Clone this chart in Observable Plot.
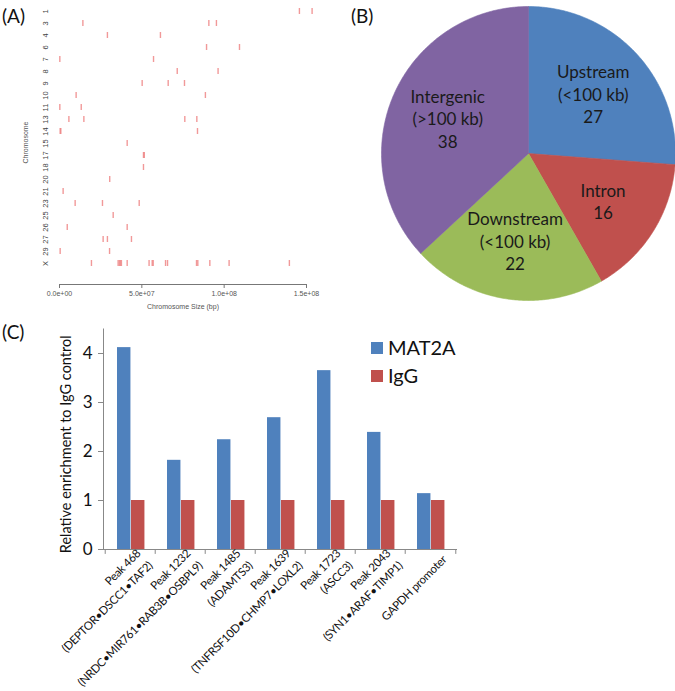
<!DOCTYPE html>
<html><head><meta charset="utf-8">
<script src="https://cdn.jsdelivr.net/npm/d3@7"></script>
<script src="https://cdn.jsdelivr.net/npm/@observablehq/plot@0.6"></script>
<style>
body{margin:0;background:#fff;}
#root{position:relative;width:675px;height:691px;overflow:hidden;font-family:Lato,sans-serif;}
.panel{position:absolute;}
.plabel{position:absolute;font-size:19px;color:#111;font-family:Lato,sans-serif;line-height:1;}
.leg{position:absolute;font-family:Lato,sans-serif;font-size:20px;color:#111;line-height:1;}
.sw{position:absolute;width:12px;height:12px;}
</style></head><body><div id="root"></div>
<script>
// ---------- Panel A data ----------
const chromOrder = ["1","3","4","6","7","8","9","10","11","13","14","15","17","18","20","21","23","25","26","27","29","X"];
const peakChrom = ["1","1","3","3","3","4","4","6","6","7","7","8","8","9","9","9","10","10","11","11",
  "13","13","13","13","14","14","14","15","17","17","18","20","21","23","23","23","25","26","26",
  "27","27","27","29","29",
  "X","X","X","X","X","X","X","X","X","X","X","X","X","X","X","X"];
const peakPosMb = [145.7,153.4, 14.2,90.7,95.3, 29.1,61.3, 89.3,109.3, 0.2,57.1, 71.5,96.3, 50.2,66.0,75.9,
  10.1,88.6, 0.2,13.2, 5.7,14.8,76.1,83.4, 0.4,0.8,83.8, 41.1, 51.0,51.5, 51.0, 30.5, 2.2, 9.5,26.1,48.4,
  32.6, 4.7,41.1, 26.5,29.1,43.7, 0.4,30.4,
  19.4,35.6,36.4,37.0,37.6,41.1,54.4,56.3,56.9,64.4,65.6,83.2,84.0,91.3,103.0,139.6];
const xTicksA = [0, 5e7, 1e8, 1.5e8];

// ---------- Panel B data ----------
const regionNames = ["Upstream\n(<100 kb)", "Intron", "Downstream\n(<100 kb)", "Intergenic\n(>100 kb)"];
const regionCounts = [27, 16, 22, 38];
const regionColors = ["#4F81BD", "#C0504D", "#9BBB59", "#8064A2"];

// ---------- Panel C data ----------
const siteLabels = ["Peak 468\n(DEPTOR•DSCC1•TAF2)", "Peak 1232\n(NRDC•MIR761•RAB3B•OSBPL9)",
  "Peak 1485\n(ADAMTS3)", "Peak 1639\n(TNFRSF10D•CHMP7•LOXL2)", "Peak 1723\n(ASCC3)",
  "Peak 2043\n(SYN1•ARAF•TIMP1)", "GAPDH promoter"];
const mat2a = [4.12, 1.82, 2.24, 2.69, 3.65, 2.39, 1.14];
const igg = [1, 1, 1, 1, 1, 1, 1];
const seriesNames = ["MAT2A", "IgG"];
const seriesColors = ["#4F81BD", "#C0504D"];
const yTicksC = [0, 1, 2, 3, 4];

const root = document.getElementById("root");
function place(el, left, top){ el.classList.add("panel"); el.style.left = left+"px"; el.style.top = top+"px"; root.appendChild(el); }

// ---------- Panel A ----------
const peaks = peakChrom.map((c,i)=>({chrom:c, pos:peakPosMb[i]*1e6}));
const sciFmt = d => d3.format(".1e")(d).replace(/e([+-])(\d)$/, (m,s,n)=>"e"+s+"0"+n);
const plotA = Plot.plot({
  width: 330, height: 315, marginLeft: 59, marginRight: 24, marginTop: 0, marginBottom: 31,
  style: {fontFamily: "'Liberation Sans', Arial, sans-serif", color: "#555", background: "transparent"},
  x: {domain: [0, 1.5e8], axis: null},
  y: {type: "band", domain: chromOrder, range: [0.785, 274.215], padding: 0, axis: null},
  marks: [
    Plot.tickX(peaks, {x: "pos", y: "chrom", stroke: "#ee7f7f", strokeWidth: 1.4, strokeOpacity: 0.8, insetTop: 3, insetBottom: 3}),
    Plot.text(chromOrder, {y: d=>d, text: d=>d, frameAnchor: "left", textAnchor: "middle", dx: -14, rotate: -90, fontSize: 7.5, fill: "#444"}),
    Plot.frame({anchor: "bottom", stroke: "#777"}),
    Plot.axisX({ticks: xTicksA, tickFormat: sciFmt, tickSize: 4, tickPadding: 3, fontSize: 7, stroke: "#777", fill: "#555", label: null}),
    Plot.text(["Chromosome Size (bp)"], {frameAnchor: "bottom", textAnchor: "middle", dy: 24, fontSize: 7, fill: "#555"}),
    Plot.text(["Chromosome"], {frameAnchor: "left", textAnchor: "middle", dx: -34, rotate: -90, fontSize: 7, fill: "#555"})
  ]
});
place(plotA, 0, 0);

// ---------- Panel B ----------
const arcs = d3.pie().sort(null).value(d=>d)(regionCounts);
const piePts = arcs.flatMap((a,i)=>{
  const name = regionNames[i];
  const pts = [{name, x: 0, y: 0}];
  const n = Math.max(2, Math.ceil((a.endAngle - a.startAngle) / (Math.PI/360)));
  for (let k = 0; k <= n; k++) {
    const t = a.startAngle + (a.endAngle - a.startAngle) * k / n;
    pts.push({name, x: Math.sin(t), y: Math.cos(t)});
  }
  pts.push({name, x: 0, y: 0});
  return pts;
});
const pieLabels = arcs.map((a,i)=>{
  const m = (a.startAngle + a.endAngle)/2;
  return {text: regionNames[i] + "\n" + regionCounts[i], x: 0.6*Math.sin(m), y: 0.6*Math.cos(m)};
});
const plotB = Plot.plot({
  width: 345, height: 310, marginLeft: 51, marginRight: 0, marginTop: 6, marginBottom: 10,
  style: {fontFamily: "Lato, sans-serif", background: "transparent"},
  x: {domain: [-1, 1], axis: null},
  y: {domain: [-1, 1], axis: null},
  color: {domain: regionNames, range: regionColors},
  marks: [
    Plot.line(piePts, {x: "x", y: "y", z: "name", fill: "name", stroke: "name", strokeWidth: 0.6, curve: "linear"}),
    Plot.text(pieLabels, {x: "x", y: "y", text: "text", fontSize: 17, lineHeight: 1.32, fill: "#1a1a1a"})
  ]
});
place(plotB, 330, 0);

// ---------- Panel C ----------
const rows = siteLabels.map((s,i)=>({site: s, mat2a: mat2a[i], igg: igg[i]}));
const cW = 675, cML = 103, cMR = 218;
const bw = (cW - cML - cMR) / siteLabels.length;
const plotC = Plot.plot({
  width: cW, height: 376, marginLeft: cML, marginRight: cMR, marginTop: 13.5, marginBottom: 142,
  style: {fontFamily: "Lato, sans-serif", color: "#111", background: "transparent"},
  x: {domain: siteLabels, padding: 0, axis: null},
  y: {domain: [0, 4.5], axis: null},
  marks: [
    Plot.barY(rows, {x: "site", y: "mat2a", fill: seriesColors[0], insetLeft: 12, insetRight: bw - 26}),
    Plot.barY(rows, {x: "site", y: "igg", fill: seriesColors[1], insetLeft: 26, insetRight: bw - 40}),
    Plot.ruleY([0], {stroke: "#888"}),
    Plot.frame({anchor: "left", stroke: "#888"}),
    Plot.ruleX(siteLabels, {x: d=>d, y1: 0, y2: -0.1, dx: -bw/2, stroke: "#888"}),
    Plot.ruleX(siteLabels.slice(-1), {x: d=>d, y1: 0, y2: -0.1, dx: bw/2, stroke: "#888"}),
    Plot.axisY({ticks: yTicksC, tickFormat: d => String(d), tickSize: 5, tickPadding: 6, fontSize: 17, stroke: "#888", fill: "#111", label: null}),
    Plot.text(siteLabels, {x: d=>d, text: d=>d, frameAnchor: "bottom", rotate: -45, textAnchor: "end", lineAnchor: "middle", dx: 13, dy: 7, fontSize: 11.5, lineHeight: 1.47, fill: "#111"}),
    Plot.text(["Relative enrichment to IgG control"], {frameAnchor: "left", textAnchor: "middle", dx: -37, dy: 5, rotate: -90, fontSize: 14.5, fill: "#111"})
  ]
});
plotC.querySelectorAll("text").forEach(t => {
  const tr = t.getAttribute("transform") || "";
  if (tr.includes("rotate(-45")) t.style.letterSpacing = "-0.3px";
});
place(plotC, 0, 315);

// ---------- legend for C ----------
seriesNames.forEach((name, i)=>{
  const sw = document.createElement("div");
  sw.className = "sw"; sw.style.background = seriesColors[i];
  sw.style.left = "371px"; sw.style.top = (342 + i*28) + "px";
  root.appendChild(sw);
  const t = document.createElement("div");
  t.className = "leg"; t.textContent = name;
  t.style.left = "388px"; t.style.top = (337 + i*28) + "px";
  root.appendChild(t);
});

// ---------- panel labels ----------
[["(A)", 2, 6], ["(B)", 351, 6], ["(C)", 2, 322]].forEach(([s,l,t])=>{
  const d = document.createElement("div");
  d.className = "plabel"; d.textContent = s; d.style.left = l+"px"; d.style.top = t+"px";
  root.appendChild(d);
});
</script></body></html>
